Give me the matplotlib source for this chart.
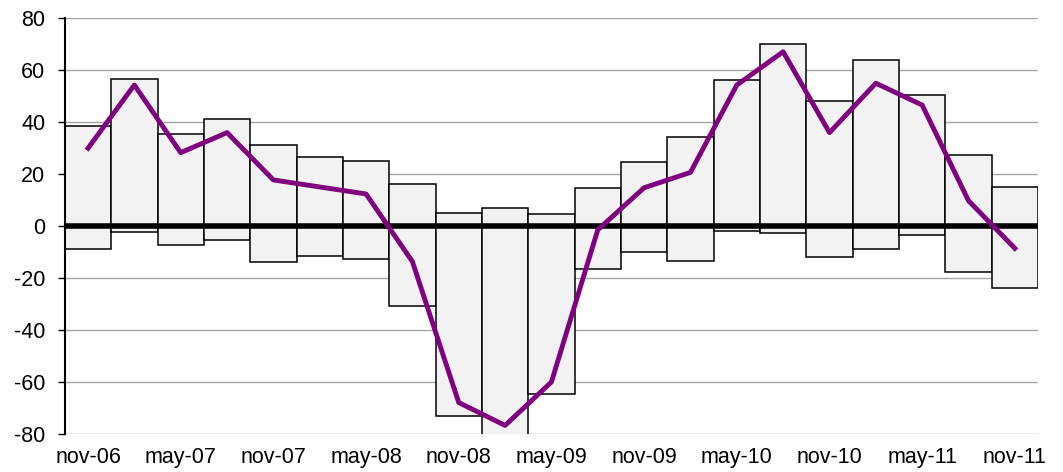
import numpy as np
import matplotlib.pyplot as plt

plt.rcParams['font.family'] = ['Liberation Sans', 'DejaVu Sans']
plt.rcParams['axes.unicode_minus'] = False

# trimestres nov-06 .. nov-11
periodos = ['nov-06', 'feb-07', 'may-07', 'ago-07', 'nov-07', 'feb-08', 'may-08',
            'ago-08', 'nov-08', 'feb-09', 'may-09', 'ago-09', 'nov-09', 'feb-10',
            'may-10', 'ago-10', 'nov-10', 'feb-11', 'may-11', 'ago-11', 'nov-11']

# rango (máximo / mínimo) de cada trimestre
maximo = [38.5, 56.4, 35.4, 41.0, 31.2, 26.4, 25.1, 16.3, 5.1, 6.8, 4.6,
          14.5, 24.5, 34.2, 56.2, 69.9, 47.9, 63.8, 50.5, 27.4, 15.1]
minimo = [-8.8, -2.4, -7.2, -5.3, -13.7, -11.7, -12.8, -30.6, -73.2, -86.0, -64.5,
          -16.6, -10.0, -13.6, -1.9, -2.8, -12.0, -9.0, -3.6, -17.7, -23.7]

# saldo
saldo = [29.9, 54.2, 28.2, 35.9, 17.7, 15.0, 12.3, -13.7, -67.9, -76.7, -60.0,
         -1.5, 14.7, 20.6, 54.2, 67.0, 35.9, 54.9, 46.5, 9.7, -8.6]

x = np.arange(len(periodos))
maximo = np.array(maximo)
minimo = np.array(minimo)

fig = plt.figure(figsize=(10.63, 4.72), dpi=100)
ax = fig.add_axes([0.061, 0.0805, 0.9155, 0.8815])

# rejilla
ax.set_axisbelow(True)
ax.yaxis.grid(True, color='#a6a6a6', linewidth=1)

ax.bar(x, maximo - minimo, bottom=minimo, width=1.0, color='#f2f2f2',
       edgecolor='black', linewidth=1.1, zorder=2)
ax.axhline(0, color='black', linewidth=4, zorder=3)
ax.plot(x, saldo, color='#800080', linewidth=3.5, zorder=4)

ax.set_xlim(-0.5, len(periodos) - 0.5)
ax.set_ylim(-80, 80)
ax.set_yticks(np.arange(-80, 81, 20))
ax.set_xticks(x[::2])
ax.set_xticklabels(periodos[::2])

for s in ['top', 'right', 'bottom']:
    ax.spines[s].set_visible(False)
ax.spines['left'].set_linewidth(1.5)
ax.tick_params(axis='y', length=5, width=1, labelsize=15.5, pad=9)
ax.tick_params(axis='x', length=0, labelsize=15.5, pad=9)

plt.savefig('out.png', dpi=100)
